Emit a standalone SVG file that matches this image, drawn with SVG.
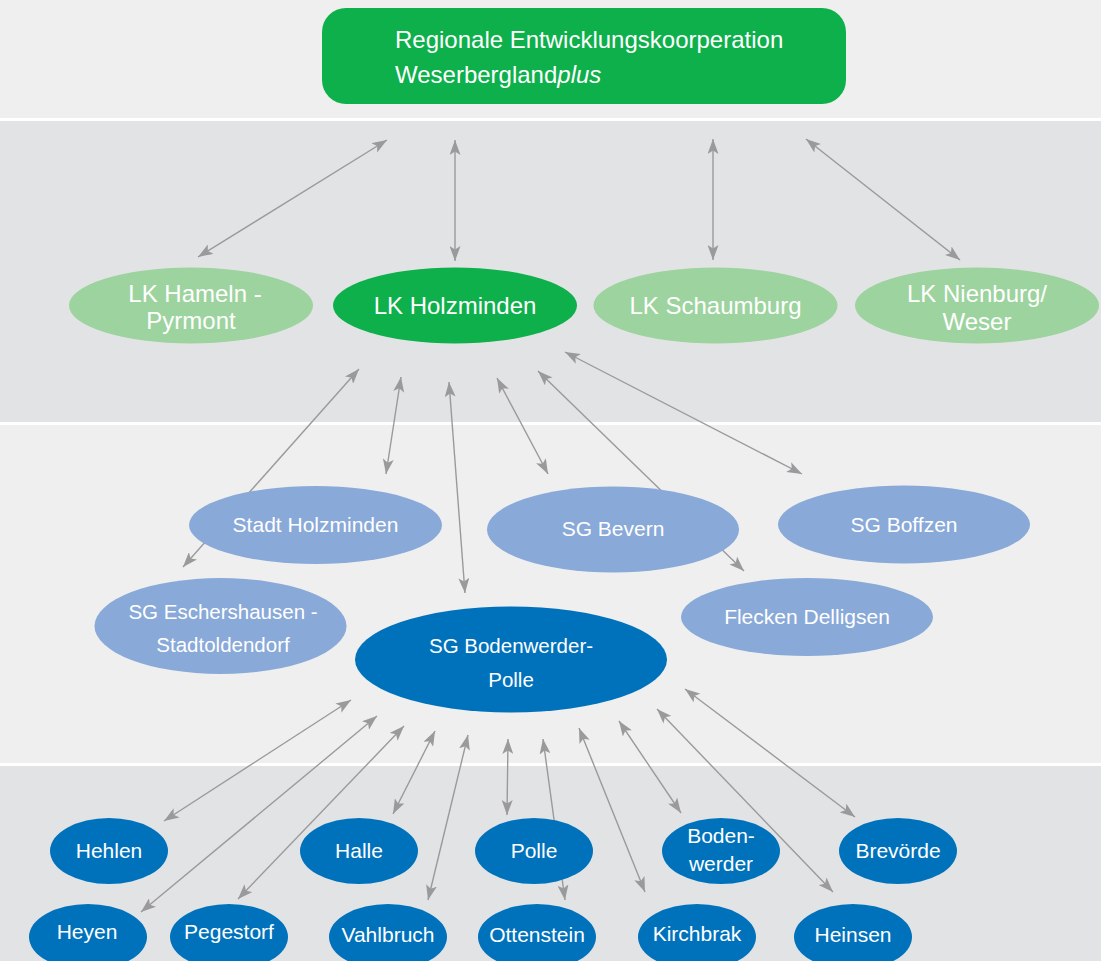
<svg xmlns="http://www.w3.org/2000/svg" width="1101" height="961" viewBox="0 0 1101 961">
<defs>
<marker id="ah" markerUnits="userSpaceOnUse" markerWidth="15" markerHeight="11" viewBox="0 0 15 11" refX="15" refY="5.5" orient="auto-start-reverse">
<path d="M0,0 L15,5.5 L0,11 L3.5,5.5 z" fill="#9a9a9c"/>
</marker>
<style>
.t{font-family:"Liberation Sans",Arial,sans-serif;fill:#ffffff;text-anchor:middle}
.c line{stroke:#9a9a9c;stroke-width:1.4;marker-start:url(#ah);marker-end:url(#ah)}
.lg{fill:#9dd39e}.gr{fill:#0db04b}.lb{fill:#89a9d8}.db{fill:#0072bc}
.f24{font-size:24px}.f21{font-size:21px}.f20{font-size:20.5px}
</style>
</defs>
<g id="bands">
<rect x="0" y="0" width="1101" height="961" fill="#ffffff"/>
<rect x="0" y="0" width="1101" height="118" fill="#efefef"/>
<rect x="0" y="121" width="1101" height="301" fill="#e2e3e5"/>
<rect x="0" y="425" width="1101" height="338" fill="#efefef"/>
<rect x="0" y="766" width="1101" height="195" fill="#e2e3e5"/>
</g>
<g id="connectors" class="c">
<line x1="387" y1="140" x2="198" y2="257"/>
<line x1="455" y1="140" x2="455" y2="261"/>
<line x1="713" y1="139" x2="713" y2="260"/>
<line x1="806" y1="139" x2="960" y2="260"/>
<line x1="359" y1="369" x2="183" y2="567"/>
<line x1="401" y1="377" x2="386" y2="474"/>
<line x1="449" y1="382" x2="465" y2="593"/>
<line x1="497" y1="378" x2="548" y2="474"/>
<line x1="538" y1="371" x2="744" y2="571"/>
<line x1="565" y1="352" x2="802" y2="474"/>
<line x1="351" y1="700" x2="164" y2="821"/>
<line x1="377" y1="716" x2="141" y2="912"/>
<line x1="404" y1="726" x2="238" y2="899"/>
<line x1="435" y1="731" x2="393" y2="814"/>
<line x1="468" y1="735" x2="428" y2="900"/>
<line x1="508" y1="739" x2="507" y2="815"/>
<line x1="543" y1="739" x2="565" y2="900"/>
<line x1="579" y1="728" x2="645" y2="892"/>
<line x1="619" y1="721" x2="681" y2="813"/>
<line x1="657" y1="709" x2="833" y2="892"/>
<line x1="685" y1="689" x2="855" y2="817"/>
</g>
<g id="rek">
<rect x="322" y="8" width="524" height="96" rx="24" class="gr"/>
<text class="t f24" x="395" y="48" style="text-anchor:start">Regionale Entwicklungskoorperation</text>
<text class="t f24" x="395" y="83" style="text-anchor:start">Weserbergland<tspan font-style="italic">plus</tspan></text>
</g>
<g id="lk-hameln"><ellipse cx="191" cy="305.5" rx="122" ry="38" class="lg"/><text class="t f24" x="195" y="302">LK Hameln -</text><text class="t f24" x="191" y="329">Pyrmont</text></g>
<g id="lk-holzminden"><ellipse cx="455" cy="305.5" rx="122" ry="38" class="gr"/><text class="t f24" x="455" y="314">LK Holzminden</text></g>
<g id="lk-schaumburg"><ellipse cx="715.5" cy="305.5" rx="122" ry="38" class="lg"/><text class="t f24" x="715.5" y="314">LK Schaumburg</text></g>
<g id="lk-nienburg"><ellipse cx="977" cy="305.5" rx="122" ry="38" class="lg"/><text class="t f24" x="977" y="302">LK Nienburg/</text><text class="t f24" x="977" y="330">Weser</text></g>
<g id="stadt-holzminden"><ellipse cx="315.5" cy="525" rx="126.5" ry="39" class="lb"/><text class="t f21" x="315.5" y="532">Stadt Holzminden</text></g>
<g id="sg-bevern"><ellipse cx="613" cy="529.5" rx="126" ry="43" class="lb"/><text class="t f21" x="613" y="536">SG Bevern</text></g>
<g id="sg-boffzen"><ellipse cx="904" cy="524.5" rx="126" ry="39" class="lb"/><text class="t f21" x="904" y="532">SG Boffzen</text></g>
<g id="sg-eschershausen"><ellipse cx="220.5" cy="626" rx="126" ry="48" class="lb"/><text class="t f20" x="223" y="619">SG Eschershausen -</text><text class="t f20" x="223" y="652">Stadtoldendorf</text></g>
<g id="sg-bodenwerder-polle"><ellipse cx="511" cy="659.5" rx="156" ry="53" class="db"/><text class="t f20" x="511" y="653">SG Bodenwerder-</text><text class="t f20" x="511" y="687">Polle</text></g>
<g id="flecken-delligsen"><ellipse cx="807" cy="617" rx="126" ry="39" class="lb"/><text class="t f21" x="807" y="624">Flecken Delligsen</text></g>
<g id="hehlen"><ellipse cx="109" cy="851" rx="59" ry="33" class="db"/><text class="t f21" x="109" y="858">Hehlen</text></g>
<g id="halle"><ellipse cx="359" cy="851" rx="59" ry="33" class="db"/><text class="t f21" x="359" y="858">Halle</text></g>
<g id="polle"><ellipse cx="534" cy="851" rx="59" ry="33" class="db"/><text class="t f21" x="534" y="858">Polle</text></g>
<g id="bodenwerder"><ellipse cx="721" cy="851" rx="59" ry="33" class="db"/><text class="t f21" x="721" y="843">Boden-</text><text class="t f21" x="721" y="871">werder</text></g>
<g id="brevoerde"><ellipse cx="898" cy="851" rx="59" ry="33" class="db"/><text class="t f21" x="898" y="858">Brevörde</text></g>
<g id="heyen"><ellipse cx="88" cy="937" rx="59" ry="33" class="db"/><text class="t f21" x="87" y="939">Heyen</text></g>
<g id="pegestorf"><ellipse cx="229" cy="937" rx="59" ry="33" class="db"/><text class="t f21" x="229" y="939">Pegestorf</text></g>
<g id="vahlbruch"><ellipse cx="388" cy="937" rx="59" ry="33" class="db"/><text class="t f21" x="388" y="942">Vahlbruch</text></g>
<g id="ottenstein"><ellipse cx="537" cy="937" rx="59" ry="33" class="db"/><text class="t f21" x="537" y="942">Ottenstein</text></g>
<g id="kirchbrak"><ellipse cx="697" cy="937" rx="59" ry="33" class="db"/><text class="t f21" x="697" y="941">Kirchbrak</text></g>
<g id="heinsen"><ellipse cx="853" cy="937" rx="59" ry="33" class="db"/><text class="t f21" x="853" y="942">Heinsen</text></g>
</svg>
